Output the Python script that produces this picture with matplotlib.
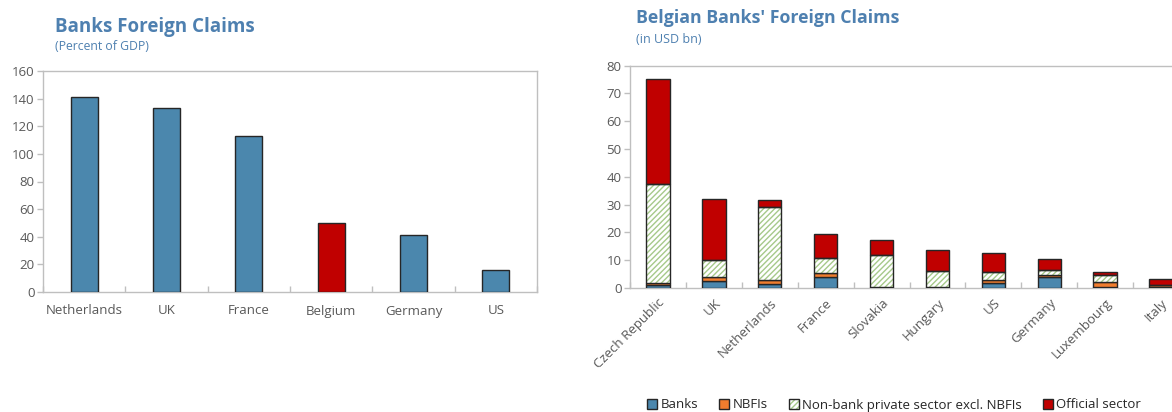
import numpy as np
import matplotlib.pyplot as plt
from matplotlib.patches import Patch
from matplotlib.legend_handler import HandlerTuple

plt.rcParams['font.family'] = ['Open Sans', 'DejaVu Sans']
plt.rcParams['hatch.linewidth'] = 1.0

# Left chart data
left_countries = ['Netherlands', 'UK', 'France', 'Belgium', 'Germany', 'US']
left_values = [141, 133, 113, 50, 41, 16]

# Right chart data (USD bn)
right_countries = ['Czech Republic', 'UK', 'Netherlands', 'France', 'Slovakia',
                   'Hungary', 'US', 'Germany', 'Luxembourg', 'Italy']
banks = [1.0, 2.6, 1.3, 3.9, 0.2, 0.2, 1.7, 4.0, 0.3, 0.5]
nbfis = [0.7, 1.5, 1.6, 1.4, 0.1, 0.1, 1.2, 0.6, 1.8, 0.5]
nonbank = [35.8, 5.9, 26.1, 5.5, 11.4, 5.7, 2.8, 2.0, 2.7, 0.1]
official = [37.6, 22.1, 2.8, 8.8, 5.4, 7.6, 7.0, 3.9, 0.9, 2.1]

BLUE = '#4B87AD'
RED = '#C00000'
ORANGE = '#F07D2E'
HATCH_GREEN = '#A6C98A'
EDGE = '#262626'
TITLE = '#4E80B0'
GRID = '#BFBFBF'
TICK = '#595959'

fig = plt.figure(figsize=(11.72, 4.12), dpi=100)
W, H = 1172, 412


def style_axes(ax, n):
    for s in ax.spines.values():
        s.set_color(GRID)
        s.set_linewidth(1.0)
    ax.set_xlim(-0.5, n - 0.5)
    ax.set_xticks(np.arange(n))
    ax.set_xticks(np.arange(n + 1) - 0.5, minor=True)
    ax.tick_params(axis='x', which='major', length=0, colors=TICK, labelsize=9.5)
    ax.tick_params(axis='x', which='minor', length=4, direction='in', color=GRID, width=1)
    ax.tick_params(axis='y', length=4, color=GRID, width=1, colors=TICK, labelsize=9.5, pad=2)
    ax.tick_params(axis='y', which='major', color=GRID)


# ---- left chart
ax1 = fig.add_axes([43 / W, 1 - 292 / H, (537 - 43) / W, (292 - 71) / H])
x1 = np.arange(len(left_countries))
colors1 = [RED if c == 'Belgium' else BLUE for c in left_countries]
ax1.bar(x1, left_values, width=0.33, color=colors1, edgecolor=EDGE, linewidth=1.0, zorder=3)
style_axes(ax1, len(left_countries))
ax1.set_ylim(0, 160)
ax1.set_yticks(np.arange(0, 161, 20))
ax1.set_xticklabels(left_countries)
ax1.tick_params(axis='x', which='major', pad=9)

fig.text(55 / W, 1 - 32 / H, 'Banks Foreign Claims', color=TITLE, fontsize=13.5,
         fontweight='bold', va='baseline')
fig.text(55 / W, 1 - 50 / H, '(Percent of GDP)', color=TITLE, fontsize=8.8, va='baseline')

# ---- right chart
n2 = len(right_countries)
ax2 = fig.add_axes([630 / W, 1 - 288 / H, 559 / W, (288 - 65.7) / H])
x2 = np.arange(n2)
bw = 0.42
b = np.zeros(n2)
ax2.bar(x2, banks, bw, bottom=b, color=BLUE, edgecolor=EDGE, linewidth=1.0, zorder=3)
b += banks
ax2.bar(x2, nbfis, bw, bottom=b, color=ORANGE, edgecolor=EDGE, linewidth=1.0, zorder=3)
b += nbfis
ax2.bar(x2, nonbank, bw, bottom=b, color='white', edgecolor=HATCH_GREEN,
        hatch='//////', linewidth=0, zorder=3)
ax2.bar(x2, nonbank, bw, bottom=b, color='none', edgecolor=EDGE, linewidth=1.0, zorder=4)
b += nonbank
ax2.bar(x2, official, bw, bottom=b, color=RED, edgecolor=EDGE, linewidth=1.0, zorder=3)

style_axes(ax2, n2)
ax2.set_ylim(0, 80)
ax2.set_yticks(np.arange(0, 81, 10))
ax2.set_xticklabels(right_countries, rotation=45, ha='right', rotation_mode='anchor')
ax2.tick_params(axis='x', which='major', pad=6)

fig.text(636 / W, 1 - 23 / H, "Belgian Banks' Foreign Claims", color=TITLE, fontsize=12.8,
         fontweight='bold', va='baseline')
fig.text(636 / W, 1 - 43 / H, '(in USD bn)', color=TITLE, fontsize=9, va='baseline')

hatch_patch = Patch(facecolor='white', edgecolor=HATCH_GREEN, hatch='//////', linewidth=0)
outline_patch = Patch(facecolor='none', edgecolor=EDGE, linewidth=1.0)
handles = [Patch(facecolor=BLUE, edgecolor=EDGE, linewidth=1.0),
           Patch(facecolor=ORANGE, edgecolor=EDGE, linewidth=1.0),
           (hatch_patch, outline_patch),
           Patch(facecolor=RED, edgecolor=EDGE, linewidth=1.0)]
labels = ['Banks', 'NBFIs', 'Non-bank private sector excl. NBFIs', 'Official sector']
fig.legend(handles, labels, loc='center', bbox_to_anchor=(894 / W, 1 - 405 / H), ncol=4,
           frameon=False, fontsize=9.5, handlelength=0.75, handleheight=0.75,
           handletextpad=0.25, columnspacing=1.6, labelcolor='#262626',
           handler_map={tuple: HandlerTuple(ndivide=1, pad=0)})

fig.savefig('out.png', dpi=100)
